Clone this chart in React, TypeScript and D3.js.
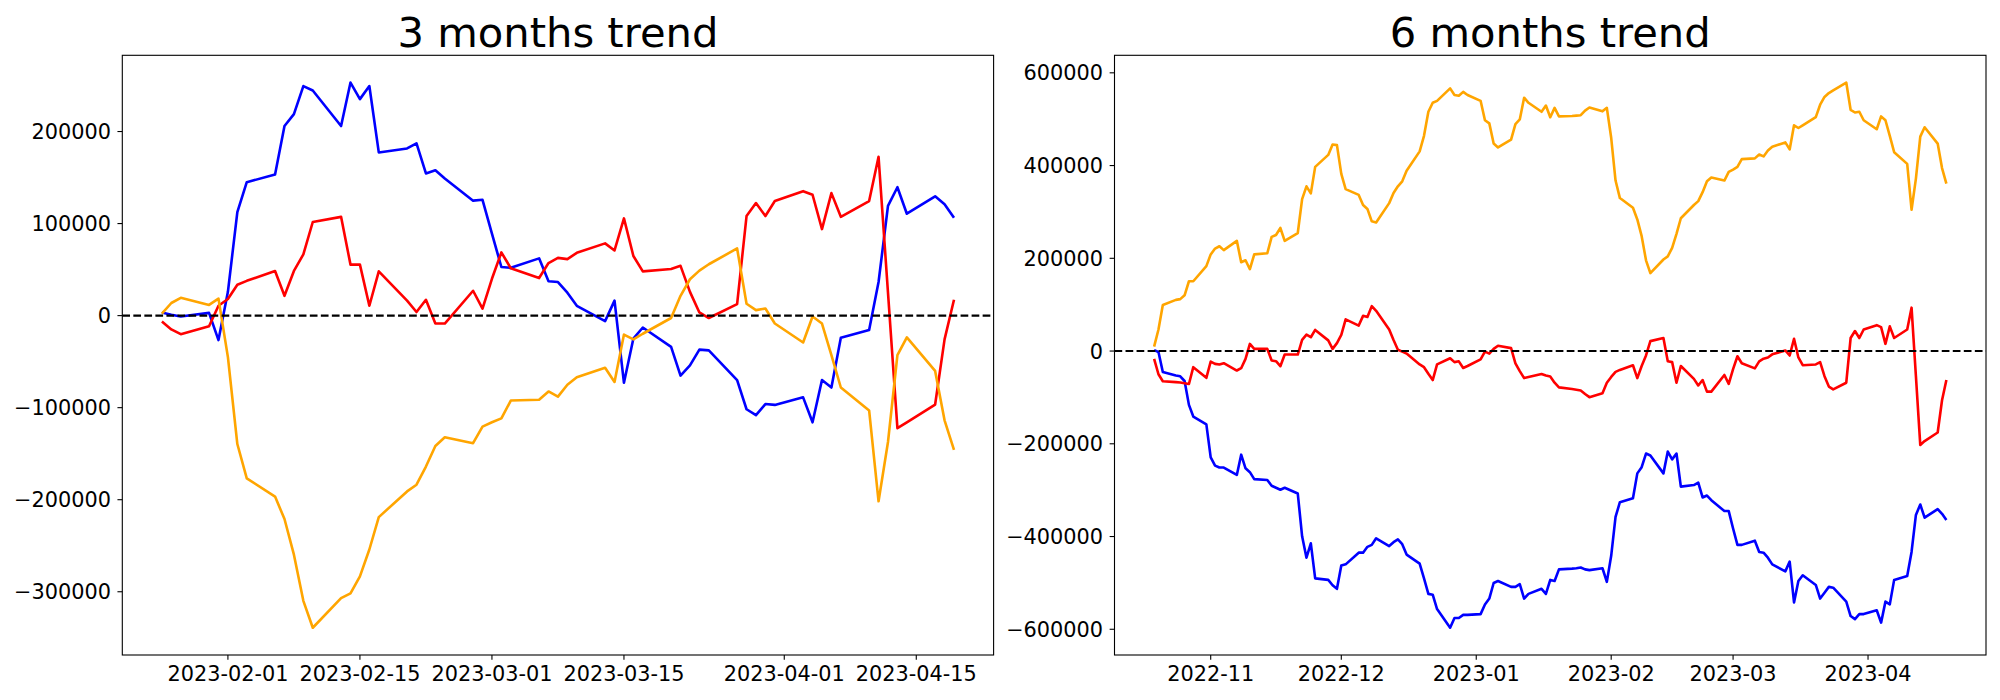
import React from 'react';
import * as d3 from 'd3';

// ---------- 3 months panel ----------
const dates3m = [
  "2023-01-25","2023-01-26","2023-01-27",
  "2023-01-30","2023-01-31","2023-02-01","2023-02-02","2023-02-03",
  "2023-02-06","2023-02-07","2023-02-08","2023-02-09","2023-02-10",
  "2023-02-13","2023-02-14","2023-02-15","2023-02-16","2023-02-17",
  "2023-02-20","2023-02-21","2023-02-22","2023-02-23","2023-02-24",
  "2023-02-27","2023-02-28","2023-03-01","2023-03-02","2023-03-03",
  "2023-03-06","2023-03-07","2023-03-08","2023-03-09","2023-03-10",
  "2023-03-13","2023-03-14","2023-03-15","2023-03-16","2023-03-17",
  "2023-03-20","2023-03-21","2023-03-22","2023-03-23","2023-03-24",
  "2023-03-27","2023-03-28","2023-03-29","2023-03-30","2023-03-31",
  "2023-04-03","2023-04-04","2023-04-05","2023-04-06","2023-04-07",
  "2023-04-10","2023-04-11","2023-04-12","2023-04-13","2023-04-14",
  "2023-04-17","2023-04-18","2023-04-19",
];
const blue3m = [
  3400, 1000, -900,
  3000, -26600, 25800, 112500, 145000,
  153200, 206000, 218900, 249400, 244600,
  206000, 253200, 235200, 249400, 177300,
  181600, 187100, 154500, 158000, 149000,
  124900, 125800, 89000, 52800, 51900,
  62200, 37300, 36500, 24900, 10700,
  -6000, 16300, -73000, -24900, -12900,
  -33900, -65200, -54100, -36900, -37800,
  -70000, -101700, -108200, -96100, -97000,
  -88800, -115900, -70000, -78100, -24000,
  -15500, 36500, 119300, 139500, 110700,
  129600, 121000, 106400,
];
const red3m = [
  -6400, -15000, -20200,
  -11600, 10700, 18000, 33500, 37800,
  48500, 21500, 48500, 66500, 101700,
  107300, 55400, 55400, 10700, 48100,
  16300, 3900, 17200, -8600, -8600,
  27000, 7700, 40000, 68700, 51500,
  40800, 57100, 62700, 61400, 68200,
  78500, 70800, 105600, 64800, 48100,
  50600, 54100, 25800, 3400, -2600,
  12400, 108200, 122300, 108200, 124500,
  135200, 131300, 94000, 133100, 107300,
  124500, 172500, 24900, -122300, -115900,
  -96600, -25800, 17200,
];
const orange3m = [
  2100, 13700, 19300,
  11600, 18500, -45100, -139500, -176800,
  -196600, -221000, -259700, -309900, -339100,
  -306900, -301700, -283300, -254100, -218900,
  -191000, -183700, -164000, -141600, -132200,
  -138600, -120600, -115900, -111600, -92300,
  -91400, -82400, -88000, -75100, -67000,
  -56700, -72100, -20600, -25800, -19700,
  -2600, 21500, 39500, 48900, 55800,
  73000, 12900, 6000, 7700, -8600,
  -29200, -900, -8600, -42900, -78100,
  -103000, -201700, -137300, -42900, -23600,
  -60100, -113700, -145900,
];
const yTicks3m = [-300000, -200000, -100000, 0, 100000, 200000];
const xTicks3m = ["2023-02-01","2023-02-15","2023-03-01","2023-03-15","2023-04-01","2023-04-15"];
const xTickLabels3m = ["2023-02-01","2023-02-15","2023-03-01","2023-03-15","2023-04-01","2023-04-15"];

// ---------- 6 months panel ----------
const dates6m = [
  "2022-10-19","2022-10-20","2022-10-21",
  "2022-10-24","2022-10-25","2022-10-26","2022-10-27","2022-10-28",
  "2022-10-31","2022-11-01","2022-11-02","2022-11-03","2022-11-04",
  "2022-11-07","2022-11-08","2022-11-09","2022-11-10","2022-11-11",
  "2022-11-14","2022-11-15","2022-11-16","2022-11-17","2022-11-18",
  "2022-11-21","2022-11-22","2022-11-23","2022-11-24","2022-11-25",
  "2022-11-28","2022-11-29","2022-11-30","2022-12-01","2022-12-02",
  "2022-12-05","2022-12-06","2022-12-07","2022-12-08","2022-12-09",
  "2022-12-12","2022-12-13","2022-12-14","2022-12-15","2022-12-16",
  "2022-12-19","2022-12-20","2022-12-21","2022-12-22","2022-12-23",
  "2022-12-26","2022-12-27","2022-12-28","2022-12-29","2022-12-30",
  "2023-01-02","2023-01-03","2023-01-04","2023-01-05","2023-01-06",
  "2023-01-09","2023-01-10","2023-01-11","2023-01-12","2023-01-13",
  "2023-01-16","2023-01-17","2023-01-18","2023-01-19","2023-01-20",
  "2023-01-23","2023-01-24","2023-01-25","2023-01-26","2023-01-27",
  "2023-01-30","2023-01-31","2023-02-01","2023-02-02","2023-02-03",
  "2023-02-06","2023-02-07","2023-02-08","2023-02-09","2023-02-10",
  "2023-02-13","2023-02-14","2023-02-15","2023-02-16","2023-02-17",
  "2023-02-20","2023-02-21","2023-02-22","2023-02-23","2023-02-24",
  "2023-02-27","2023-02-28","2023-03-01","2023-03-02","2023-03-03",
  "2023-03-06","2023-03-07","2023-03-08","2023-03-09","2023-03-10",
  "2023-03-13","2023-03-14","2023-03-15","2023-03-16","2023-03-17",
  "2023-03-20","2023-03-21","2023-03-22","2023-03-23","2023-03-24",
  "2023-03-27","2023-03-28","2023-03-29","2023-03-30","2023-03-31",
  "2023-04-03","2023-04-04","2023-04-05","2023-04-06","2023-04-07",
  "2023-04-10","2023-04-11","2023-04-12","2023-04-13","2023-04-14",
  "2023-04-17","2023-04-18","2023-04-19",
];
const blue6m = [
  2100, -2100, -45000,
  -52600, -54500, -64600, -116100, -141300,
  -158100, -229400, -247000, -251200, -251200,
  -267100, -223500, -252800, -261200, -276300,
  -278000, -290600, -294800, -299000, -294800,
  -307300, -399600, -445700, -414700, -490200,
  -493500, -505000, -512800, -462500, -460000,
  -434800, -434800, -422200, -418000, -403800,
  -420600, -412200, -406300, -416400, -439000,
  -458300, -490200, -523700, -525400, -556400,
  -596700, -575700, -575700, -569000, -569000,
  -567300, -546400, -533800, -500200, -496000,
  -508600, -508600, -502700, -533800, -523700,
  -512800, -523700, -493500, -496000, -470900,
  -469200, -468400, -466700, -470900, -472500,
  -468400, -497800, -441600, -357700, -325900,
  -317500, -263800, -250400, -221000, -225200,
  -263800, -216800, -233600, -221000, -292300,
  -289000, -283900, -315800, -311600, -321600,
  -345100, -345100, -382800, -418000, -418000,
  -409000, -433200, -434800, -445700, -460000,
  -475100, -454100, -542100, -496000, -483500,
  -504400, -533800, -521200, -508600, -510300,
  -540400, -571500, -578200, -567300, -567300,
  -558900, -585700, -540400, -546300, -493500,
  -485100, -433200, -353500, -330900, -359400,
  -340900, -351000, -364400,
];
const red6m = [
  -16900, -50000, -65000,
  -67100, -67800, -69300, -71000, -34800,
  -57800, -22600, -27600, -29100, -26200,
  -42000, -37000, -16900, 15400, 4700,
  4700, -20500, -21900, -32700, -7500,
  -7500, 24000, 35500, 29800, 45600,
  23000, 4700, 17000, 34800, 68300,
  54900, 75900, 73400, 96900, 86800,
  46500, 23900, 2900, -1300, -5500,
  -28900, -34800, -49100, -62500, -28900,
  -15500, -23900, -22200, -36500, -32300,
  -18000, -1300, -5500, 4600, 11300,
  6300, -26400, -43200, -58300, -55800,
  -49500, -52800, -55000, -68300, -78400,
  -81800, -83400, -85100, -92600, -99400,
  -91000, -68300, -55800, -44900, -40700,
  -30600, -58300, -32300, -9600, 21400,
  28100, -22200, -23900, -68300, -32300,
  -60000, -74200, -62500, -87600, -87600,
  -51600, -70900, -39000, -11300, -26400,
  -37300, -22200, -16400, -13800, -7100,
  1300, -9600, 26400, -13800, -30600,
  -28900, -23900, -54100, -76700, -82600,
  -68300, 28100, 43200, 28100, 46500,
  55800, 51600, 15500, 53200, 28100,
  46500, 93500, -54100, -202500, -194100,
  -175700, -106100, -62500,
];
const orange6m = [
  9600, 46500, 99400,
  110300, 112000, 120300, 150500, 150500,
  183200, 208400, 221000, 226000, 217600,
  237700, 191600, 195800, 176500, 208400,
  210900, 246100, 250300, 265400, 237700,
  254500, 327500, 355200, 340100, 397100,
  423000, 445300, 444100, 382000, 349300,
  336700, 314900, 306500, 279700, 277200,
  319000, 340900, 355200, 366000, 388700,
  430600, 464100, 516100, 535400, 539600,
  566500, 552200, 550500, 558900, 552200,
  539600, 497700, 491000, 447400, 439000,
  455800, 489300, 499400, 546300, 535400,
  516000, 529500, 504300, 524500, 506100,
  506900, 507700, 508600, 518600, 525300,
  516900, 524500, 459900, 367700, 329900,
  308900, 283800, 247700, 195700, 168000,
  197400, 204100, 222600, 252800, 286400,
  314900, 323300, 342600, 366000, 374400,
  367700, 386200, 391200, 397100, 413800,
  415500, 423900, 419700, 432300, 440700,
  449900, 434800, 486800, 481000, 486800,
  504400, 531200, 548000, 556400, 562300,
  579000, 520300, 514400, 516100, 497700,
  478400, 506100, 497700, 464200, 428900,
  403700, 304800, 371900, 462500, 482600,
  447400, 394600, 361000,
];
const yTicks6m = [-600000, -400000, -200000, 0, 200000, 400000, 600000];
const xTicks6m = ["2022-11-01","2022-12-01","2023-01-01","2023-02-01","2023-03-01","2023-04-01"];
const xTickLabels6m = ["2022-11","2022-12","2023-01","2023-02","2023-03","2023-04"];

const seriesColors = ["#0000ff", "#ff0000", "#ffa500"];
const FONT = "'DejaVu Sans', sans-serif";
const TICK_FS = 20.83;
const TITLE_FS = 41.67;

const parse = d3.utcParse("%Y-%m-%d");

function fmt(v: number): string {
  return v < 0 ? "\u2212" + String(Math.abs(v)) : String(v);
}

type PanelProps = {
  title: string;
  dates: string[];
  series: number[][];
  yTicks: number[];
  xTicks: string[];
  xTickLabels: string[];
  x0: number; x1: number; y0: number; y1: number;
};

function Panel({ title, dates, series, yTicks, xTicks, xTickLabels, x0, x1, y0, y1 }: PanelProps) {
  const ds = dates.map((s) => parse(s) as Date);
  const tMin = +(d3.min(ds) as Date);
  const tMax = +(d3.max(ds) as Date);
  const tSpan = tMax - tMin;
  const x = d3.scaleUtc()
    .domain([new Date(tMin - 0.05 * tSpan), new Date(tMax + 0.05 * tSpan)])
    .range([x0, x1]);
  const all = series.flat();
  const vMin = d3.min(all) as number;
  const vMax = d3.max(all) as number;
  const vSpan = vMax - vMin;
  const y = d3.scaleLinear()
    .domain([vMin - 0.05 * vSpan, vMax + 0.05 * vSpan])
    .range([y1, y0]);
  const line = d3.line<number>()
    .x((_, i) => x(ds[i]))
    .y((v) => y(v));
  const tickLen = 4.86;
  return (
    <g>
      <text x={(x0 + x1) / 2} y={y0 - 8.8} textAnchor="middle"
        fontFamily={FONT} fontSize={TITLE_FS} fill="#000">{title}</text>
      {series.map((s, k) => (
        <path key={k} d={line(s) || ""} fill="none" stroke={seriesColors[k]}
          strokeWidth={2.6} strokeLinejoin="round" strokeLinecap="butt" />
      ))}
      <line x1={x0} x2={x1} y1={y(0)} y2={y(0)} stroke="#000" strokeWidth={2.08}
        strokeDasharray="7.7 3.33" />
      <rect x={x0} y={y0} width={x1 - x0} height={y1 - y0} fill="none" stroke="#000" strokeWidth={1.1} />
      {yTicks.map((t) => (
        <g key={t}>
          <line x1={x0 - tickLen} x2={x0} y1={y(t)} y2={y(t)} stroke="#000" strokeWidth={1.1} />
          <text x={x0 - tickLen - 6.5} y={y(t) + 7.6} textAnchor="end"
            fontFamily={FONT} fontSize={TICK_FS} fill="#000">{fmt(t)}</text>
        </g>
      ))}
      {xTicks.map((t, i) => {
        const px = x(parse(t) as Date);
        return (
          <g key={t}>
            <line x1={px} x2={px} y1={y1} y2={y1 + tickLen} stroke="#000" strokeWidth={1.1} />
            <text x={px} y={y1 + 26} textAnchor="middle"
              fontFamily={FONT} fontSize={TICK_FS} fill="#000">{xTickLabels[i]}</text>
          </g>
        );
      })}
    </g>
  );
}

export default function App() {
  return (
    <svg width={2000} height={700} viewBox="0 0 2000 700"
      style={{ position: 'absolute', left: 0, top: 0, background: '#fff' }}>
      <rect x={0} y={0} width={2000} height={700} fill="#fff" />
      <Panel title="3 months trend" dates={dates3m} series={[blue3m, red3m, orange3m]}
        yTicks={yTicks3m} xTicks={xTicks3m} xTickLabels={xTickLabels3m}
        x0={122.3} x1={993.6} y0={55.3} y1={655} />
      <Panel title="6 months trend" dates={dates6m} series={[blue6m, red6m, orange6m]}
        yTicks={yTicks6m} xTicks={xTicks6m} xTickLabels={xTickLabels6m}
        x0={1114.5} x1={1986} y0={55.3} y1={655} />
    </svg>
  );
}
